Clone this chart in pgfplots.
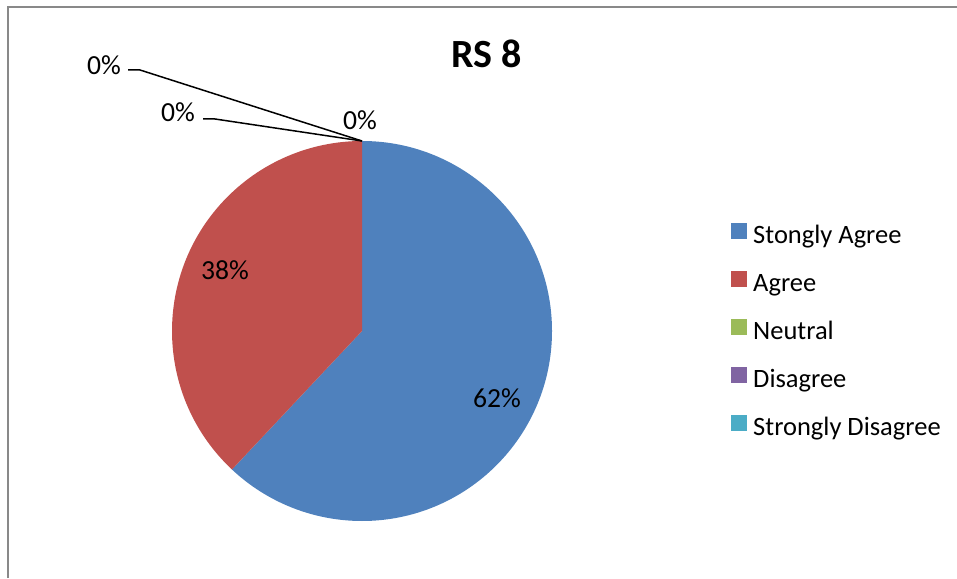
\documentclass[border=0pt]{standalone}
\usepackage{fontspec}
\setmainfont{Carlito}
\usepackage{pgfplots}
\pgfplotsset{compat=1.18}

\definecolor{c1}{HTML}{4F81BD}
\definecolor{c2}{HTML}{C0504D}
\definecolor{c3}{HTML}{9BBB59}
\definecolor{c4}{HTML}{8064A2}
\definecolor{c5}{HTML}{4BACC6}
\definecolor{frame}{HTML}{898989}

% shares in percent: Stongly Agree, Agree, Neutral, Disagree, Strongly Disagree
\def\vA{62}\def\vB{38}\def\vC{0}\def\vD{0}\def\vE{0}
\pgfmathsetmacro\aA{90}
\pgfmathsetmacro\aB{\aA-3.6*\vA}
\pgfmathsetmacro\aC{\aB-3.6*\vB}

\begin{document}
\begin{tikzpicture}[lbl/.style={font=\fontsize{13.8}{16}\selectfont}]
\begin{axis}[
    x=0.5pt, y=0.5pt,
    xmin=0, xmax=957, ymin=0, ymax=578,
    hide axis, clip=false,
    legend style={at={(axis cs:731,246)}, anchor=west, draw=none, fill=none,
        inner sep=0pt, column sep=3pt, row sep=10.8pt,
        font=\fontsize{13.25}{16}\selectfont,
        nodes={inner sep=0pt, text height=9pt, text depth=3pt}},
    legend cell align=left,
    legend image code/.code={\fill[#1] (0pt,-0.5pt) rectangle (7.5pt,7pt);},
]
\coordinate (bl) at (axis cs:0,0);
\coordinate (tr) at (axis cs:957,578);
% frame
\draw[frame, line width=1pt] (axis cs:8,0) -- (axis cs:8,571) -- (axis cs:957,571);

% slices
\fill[c1] (axis cs:362,247) -- ++(\aA:95pt) arc[start angle=\aA, end angle=\aB, radius=95pt] -- cycle;
\fill[c2] (axis cs:362,247) -- ++(\aB:95pt) arc[start angle=\aB, end angle=\aC, radius=95pt] -- cycle;

\addlegendimage{c1}\addlegendentry{Stongly Agree}
\addlegendimage{c2}\addlegendentry{Agree}
\addlegendimage{c3}\addlegendentry{Neutral}
\addlegendimage{c4}\addlegendentry{Disagree}
\addlegendimage{c5}\addlegendentry{Strongly Disagree}

% data labels
\node[lbl] at (axis cs:497,180) {\vA\%};
\node[lbl] at (axis cs:225,308) {\vB\%};
\node[lbl] at (axis cs:360,458) {\vC\%};
\node[lbl] at (axis cs:178,466) {\vD\%};
\node[lbl] at (axis cs:104,513) {\vE\%};
\draw[line width=0.75pt] (axis cs:203,459) -- (axis cs:215,459) -- (axis cs:362,437);
\draw[line width=0.75pt] (axis cs:128,508) -- (axis cs:140,508) -- (axis cs:362,437);

\node[font=\bfseries\fontsize{20}{24}\selectfont] at (axis cs:487,524) {RS 8};
\end{axis}
\pgfresetboundingbox
\path[use as bounding box] (bl) rectangle (tr);
\end{tikzpicture}
\end{document}
